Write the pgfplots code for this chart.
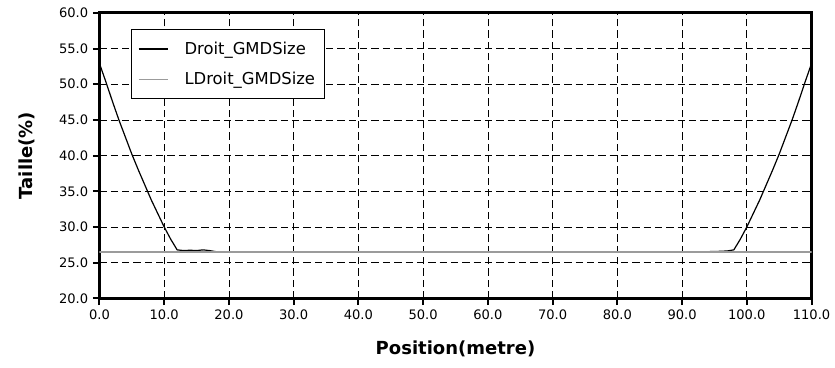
\documentclass[border=0pt]{standalone}
\usepackage{pgfplots}
\pgfplotsset{compat=1.18}
\usepackage{fontspec}
\setmainfont{DejaVu Sans}
\begin{document}
\begin{tikzpicture}
\begin{axis}[
  name=ax,
  scale only axis,
  width=534pt, height=214.2pt,
  xmin=0, xmax=110, ymin=20, ymax=60,
  xtick={0,10,...,110}, ytick={20,25,...,60},
  /pgf/number format/assume math mode=true,
  /pgf/number format/fixed, /pgf/number format/fixed zerofill, /pgf/number format/precision=1,
  tick label style={font=\fontsize{9.8}{11}\selectfont},
  xlabel={\textbf{Position(metre)}}, ylabel={\textbf{Taille(\%)}},
  label style={font=\fontsize{13.5}{15}\selectfont},
  xlabel style={yshift=-9pt},
  ylabel style={yshift=11pt},
  axis line style={line width=2pt},
  tick pos=left,
  tick align=outside, major tick length=5pt,
  tick style={line width=1.5pt, black},
  grid=major, major grid style={dash pattern=on 5.5pt off 3pt, black, line width=0.5pt},
  legend style={at={(0.044,0.942)}, anchor=north west, font=\fontsize{12.3}{14}\selectfont,
    draw=black, line width=0.75pt, inner xsep=5pt, inner ysep=7pt, row sep=8pt},
  legend cell align=left,
  legend image code/.code={\draw[#1, line width=0.9pt] (0pt,0pt) -- (22pt,0pt);},
]
\addplot[black, line width=0.9pt] coordinates {
(0,52.9)(1,50.3)(2,47.6)(3,45.0)(4,42.6)(5,40.2)(6,38.0)(7,35.9)(8,33.8)(9,31.9)(10,30.0)(11,28.3)(12,26.8)
(13,26.7)(14,26.75)(15,26.7)(16,26.8)(17,26.7)(18,26.55)(20,26.5)(30,26.5)(40,26.5)(50,26.5)(60,26.5)(70,26.5)(80,26.5)(90,26.5)
(94,26.55)(96,26.6)(97,26.65)(98,26.8)
(99,28.3)(100,30.0)(101,31.9)(102,33.8)(103,35.9)(104,38.0)(105,40.2)(106,42.6)(107,45.0)(108,47.6)(109,50.3)(110,52.9)
};
\addlegendentry{\hspace{10pt}Droit\_GMDSize}
\addplot[color={rgb,255:red,155;green,155;blue,155}, line width=0.9pt] coordinates {(0,26.5)(110,26.5)};
\addlegendentry{\hspace{10pt}LDroit\_GMDSize}
\end{axis}
\pgfresetboundingbox
\path (ax.south west) ++(-74.6pt,-51.45pt) coordinate (bl);
\path (ax.north east) ++(17.6pt,9.6pt) coordinate (tr);
\useasboundingbox (bl) rectangle (tr);
\end{tikzpicture}
\end{document}
